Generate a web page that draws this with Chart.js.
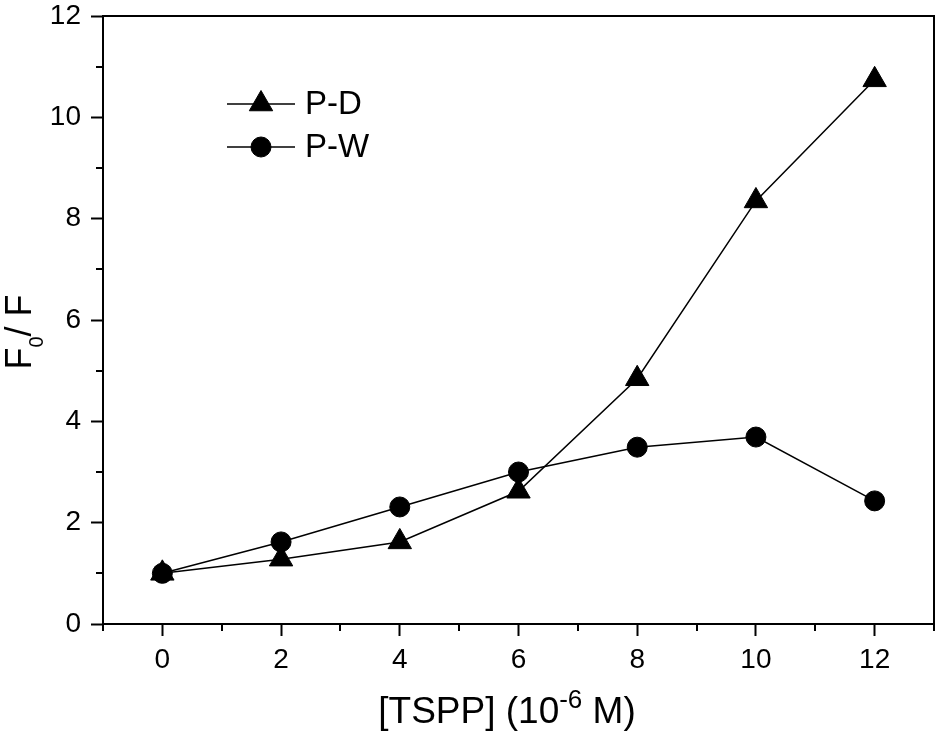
<!DOCTYPE html>
<html>
<head>
<meta charset="utf-8">
<script src="https://cdn.jsdelivr.net/npm/chart.js@4"></script>
<style>
  html, body { margin: 0; padding: 0; background: #fff; overflow: hidden; }
  #wrap { width: 938px; height: 736px; position: relative; }
  #chart { display: block; }
</style>
</head>
<body>
<div id="wrap"><canvas id="chart"></canvas></div>
<script>
// data
const concentrations = [0, 2, 4, 6, 8, 10, 12];
const pdValues = [1.0, 1.28, 1.62, 2.62, 4.84, 8.35, 10.74];
const pwValues = [1.0, 1.62, 2.31, 3.0, 3.49, 3.69, 2.43];
const xTickLabels = [0, 2, 4, 6, 8, 10, 12];
const yTickLabels = [0, 2, 4, 6, 8, 10, 12];
const seriesNames = ["P-D", "P-W"];

const FONT = 'Arial, "Liberation Sans", sans-serif';

// pair x with y for a linear x axis
function toPoints(xs, ys) {
  return xs.map((x, i) => ({ x: x, y: ys[i] }));
}

function drawMarker(ctx, style, r, cx, cy) {
  ctx.beginPath();
  if (style === "triangle") {
    let rad = 0;
    ctx.moveTo(cx + Math.sin(rad) * r, cy - Math.cos(rad) * r);
    rad += (2 * Math.PI) / 3;
    ctx.lineTo(cx + Math.sin(rad) * r, cy - Math.cos(rad) * r);
    rad += (2 * Math.PI) / 3;
    ctx.lineTo(cx + Math.sin(rad) * r, cy - Math.cos(rad) * r);
    ctx.closePath();
  } else {
    ctx.arc(cx, cy, r, 0, Math.PI * 2);
  }
  ctx.fill();
  ctx.lineWidth = 1;
  ctx.stroke();
}

// keep the plot box where the figure has it
function fixBox(size, key) {
  return (s) => {
    s[key] = size;
    s.paddingLeft = s.paddingRight = s.paddingTop = s.paddingBottom = 0;
  };
}

// frame, minor ticks, axis titles and the inset legend
const decor = {
  id: "decor",
  afterDraw(chart) {
    const { ctx, chartArea: a, scales } = chart;
    const x = scales.x, y = scales.y;
    ctx.save();
    ctx.strokeStyle = "#000";
    ctx.fillStyle = "#000";
    ctx.lineWidth = 2;
    ctx.strokeRect(a.left, a.top, a.right - a.left, a.bottom - a.top);

    // minor ticks
    ctx.beginPath();
    x.ticks.forEach((t) => {
      if (xTickLabels.includes(t.value)) return;
      const px = Math.round(x.getPixelForValue(t.value));
      ctx.moveTo(px, a.bottom);
      ctx.lineTo(px, a.bottom + 7);
    });
    y.ticks.forEach((t) => {
      if (yTickLabels.includes(t.value)) return;
      const py = Math.round(y.getPixelForValue(t.value));
      ctx.moveTo(a.left, py);
      ctx.lineTo(a.left - 7, py);
    });
    ctx.stroke();

    // x title with superscript
    ctx.textBaseline = "alphabetic";
    ctx.textAlign = "left";
    const big = "37px " + FONT, sup = "26px " + FONT;
    const parts = [["[TSPP] (10", big, 0], ["-6", sup, -15], [" M)", big, 0]];
    let w = 0;
    parts.forEach((p) => { ctx.font = p[1]; w += ctx.measureText(p[0]).width; });
    let cx = 507 - w / 2;
    parts.forEach((p) => {
      ctx.font = p[1];
      ctx.fillText(p[0], cx, 723 + p[2]);
      cx += ctx.measureText(p[0]).width;
    });

    // y title with subscript, rotated
    const yparts = [["F", "36px " + FONT, 0], ["0", "20px " + FONT, 12], ["/ F", "36px " + FONT, 0]];
    w = 0;
    yparts.forEach((p) => { ctx.font = p[1]; w += ctx.measureText(p[0]).width; });
    ctx.save();
    ctx.translate(31, 332 + w / 2);
    ctx.rotate(-Math.PI / 2);
    cx = 0;
    yparts.forEach((p) => {
      ctx.font = p[1];
      ctx.fillText(p[0], cx, p[2]);
      cx += ctx.measureText(p[0]).width;
    });
    ctx.restore();

    // legend inside the plot
    const lx = a.left + 124;
    chart.data.datasets.forEach((ds, i) => {
      const ly = a.top + 88 + i * 43;
      ctx.lineWidth = 1.5;
      ctx.beginPath();
      ctx.moveTo(lx, ly);
      ctx.lineTo(lx + 68, ly);
      ctx.stroke();
      drawMarker(ctx, ds.pointStyle, ds.pointRadius, lx + 34, ly);
      ctx.font = "33px " + FONT;
      ctx.textBaseline = "middle";
      ctx.fillText(ds.label, lx + 78, ly + 1);
    });
    ctx.restore();
  },
};

function chart() {
  const el = document.getElementById("chart").getContext("2d");
  new Chart(el, {
    type: "scatter",
    data: {
      datasets: [
        {
          label: seriesNames[0],
          data: toPoints(concentrations, pdValues),
          showLine: true,
          borderColor: "#000",
          borderWidth: 1.5,
          pointStyle: "triangle",
          pointRadius: 13.5,
          pointBackgroundColor: "#000",
          pointBorderColor: "#000",
          pointBorderWidth: 1,
        },
        {
          label: seriesNames[1],
          data: toPoints(concentrations, pwValues),
          showLine: true,
          borderColor: "#000",
          borderWidth: 1.5,
          pointStyle: "circle",
          pointRadius: 10,
          pointBackgroundColor: "#000",
          pointBorderColor: "#000",
          pointBorderWidth: 1,
        },
      ],
    },
    options: {
      responsive: true,
      maintainAspectRatio: false,
      animation: false,
      layout: { autoPadding: false, padding: { top: 16, right: 4, left: 0, bottom: 0 } },
      plugins: { legend: { display: false }, tooltip: { enabled: false } },
      scales: {
        x: {
          type: "linear",
          min: -1,
          max: 13,
          afterFit: fixBox(112, "height"),
          border: { display: false },
          grid: {
            drawOnChartArea: false,
            drawTicks: true,
            tickLength: 12,
            tickWidth: 2,
            tickColor: (c) => (xTickLabels.includes(c.tick.value) ? "#000" : "rgba(0,0,0,0)"),
          },
          ticks: {
            stepSize: 1,
            autoSkip: false,
            maxRotation: 0,
            padding: 7,
            color: "#000",
            font: { family: FONT, size: 28 },
            callback: (v) => (xTickLabels.includes(v) ? v : ""),
          },
        },
        y: {
          min: 0,
          max: 12,
          afterFit: fixBox(103, "width"),
          border: { display: false },
          grid: {
            drawOnChartArea: false,
            drawTicks: true,
            tickLength: 12,
            tickWidth: 2,
            tickColor: (c) => (yTickLabels.includes(c.tick.value) ? "#000" : "rgba(0,0,0,0)"),
          },
          ticks: {
            stepSize: 1,
            autoSkip: false,
            padding: 10,
            color: "#000",
            font: { family: FONT, size: 28 },
            callback: (v) => (yTickLabels.includes(v) ? v : ""),
          },
        },
      },
    },
    plugins: [decor],
  });
}

chart();
</script>
</body>
</html>
